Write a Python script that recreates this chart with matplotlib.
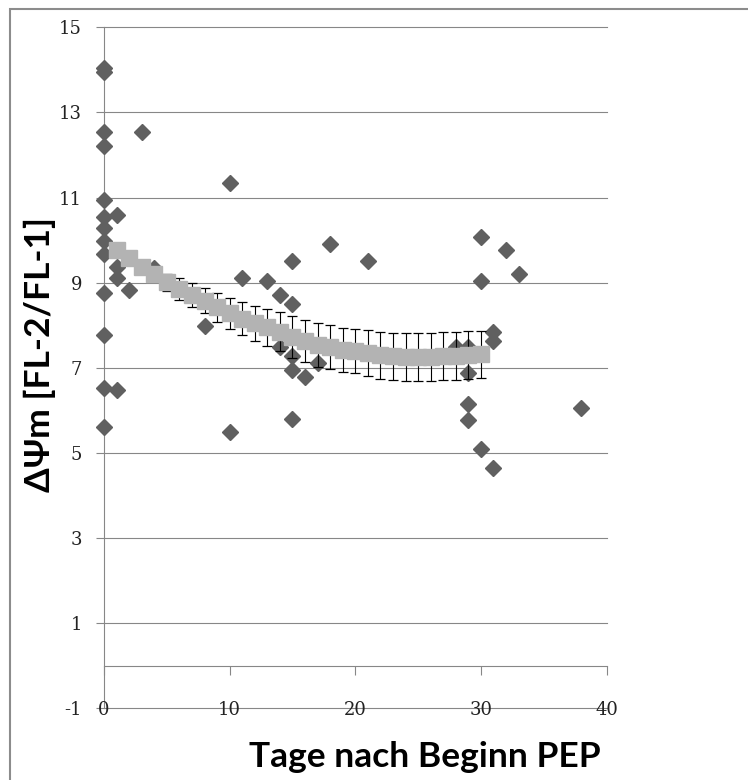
import matplotlib
matplotlib.use("Agg")
import matplotlib.pyplot as plt
from matplotlib.patches import Rectangle

plt.rcParams['axes.unicode_minus'] = False

# ── Data ──────────────────────────────────────────────────────────────────────
# individual measurements (day, value)
day = [0, 0, 0, 0, 0, 0, 0, 0, 0, 0, 0, 0, 0,
       1, 1, 1, 1, 2, 3, 4,
       8, 10, 10, 11, 13, 14, 14,
       15, 15, 15, 15, 15, 16, 17, 18, 21,
       28, 29, 29, 29, 29, 30, 30, 30, 31, 31, 31, 32, 33, 38]
dpsi = [14.05, 13.95, 12.55, 12.2, 10.95, 10.55, 10.28, 9.97, 9.67, 8.76, 7.78, 6.52, 5.62,
        10.6, 9.38, 9.11, 6.49, 8.83, 12.53, 9.35,
        7.99, 11.34, 5.5, 9.1, 9.03, 8.7, 7.5,
        9.5, 8.5, 7.27, 6.94, 5.79, 6.79, 7.11, 9.9, 9.52,
        7.48, 7.5, 6.87, 6.15, 5.78, 10.07, 9.03, 5.1, 7.84, 7.62, 4.65, 9.77, 9.21, 6.05]

# fitted curve with error
fit_day = list(range(1, 31))
fit_val = [9.76, 9.58, 9.38, 9.20, 9.01, 8.85, 8.71, 8.58, 8.42, 8.28,
           8.15, 8.05, 7.95, 7.85, 7.72, 7.63, 7.54, 7.49, 7.42, 7.39,
           7.34, 7.29, 7.27, 7.26, 7.26, 7.26, 7.27, 7.28, 7.30, 7.32]
fit_err = [0.10, 0.12, 0.14, 0.16, 0.20, 0.26, 0.28, 0.29, 0.34, 0.37,
           0.39, 0.41, 0.43, 0.45, 0.49, 0.49, 0.51, 0.51, 0.51, 0.52,
           0.54, 0.55, 0.55, 0.56, 0.56, 0.56, 0.56, 0.56, 0.56, 0.55]

x_ticks = [0, 10, 20, 30, 40]
y_ticks = [-1, 1, 3, 5, 7, 9, 11, 13, 15]

# ── Plot ──────────────────────────────────────────────────────────────────────
W, H = 748, 780
fig = plt.figure(figsize=(W / 100, H / 100), dpi=100)
ax = fig.add_axes([104 / W, 71.7 / H, 502.5 / W, 681 / H])

grey = '#878787'
ax.plot(day, dpsi, linestyle='none', marker='D', ms=8.6, color='#606060',
        zorder=3, clip_on=False)
ax.errorbar(fit_day, fit_val, yerr=fit_err, fmt='none', ecolor='black',
            elinewidth=0.8, capsize=3.6, capthick=0.9, zorder=3.5)
ax.plot(fit_day, fit_val, linestyle='none', marker='s', ms=11.8, color='#b3b3b3', zorder=4)

ax.set_xlim(0, 40)
ax.set_ylim(-1, 15)
ax.set_yticks(y_ticks)
ax.set_xticks(x_ticks)
ax.grid(axis='y', color=grey, linewidth=0.8)
for gl in ax.get_ygridlines():
    gl.set_clip_on(False)
ax.set_axisbelow(True)

ax.spines[['top', 'right']].set_visible(False)
ax.spines['bottom'].set_position(('data', 0))
for s in ['left', 'bottom']:
    ax.spines[s].set_color(grey)
    ax.spines[s].set_linewidth(0.8)

ax.tick_params(axis='y', direction='out', length=5.8, width=0.8, color=grey,
               pad=10, labelsize=13, labelcolor='#222222')
ax.tick_params(axis='x', direction='out', length=6.5, width=0.8, color=grey,
               labelbottom=False)
for lab in ax.get_yticklabels():
    lab.set_family('DejaVu Serif')

# x tick labels sit on the -1 line (Excel "low" labels)
for t in x_ticks:
    ax.text(t, -1, str(t), ha='center', va='center_baseline', fontsize=13,
            family='DejaVu Serif', color='#222222', clip_on=False, zorder=6)

fig.text(40 / W, 1 - 354.5 / H, 'ΔΨm [FL-2/FL-1]', rotation=90, ha='center', va='center',
         fontsize=25.5, fontweight='bold', family=['Lato', 'DejaVu Sans'])
fig.text(425 / W, 1 - 757 / H, 'Tage nach Beginn PEP', ha='center', va='center',
         fontsize=25.5, fontweight='bold', family=['Lato', 'DejaVu Sans'])

# chart frame (only left and top edges fall inside the picture)
fig.patches.append(Rectangle((10 / W, -0.1), 1.5, 1.1 - 9 / H, transform=fig.transFigure,
                             fill=False, edgecolor='#8c8c8c', linewidth=1.5))

fig.savefig('out.png', dpi=100)
